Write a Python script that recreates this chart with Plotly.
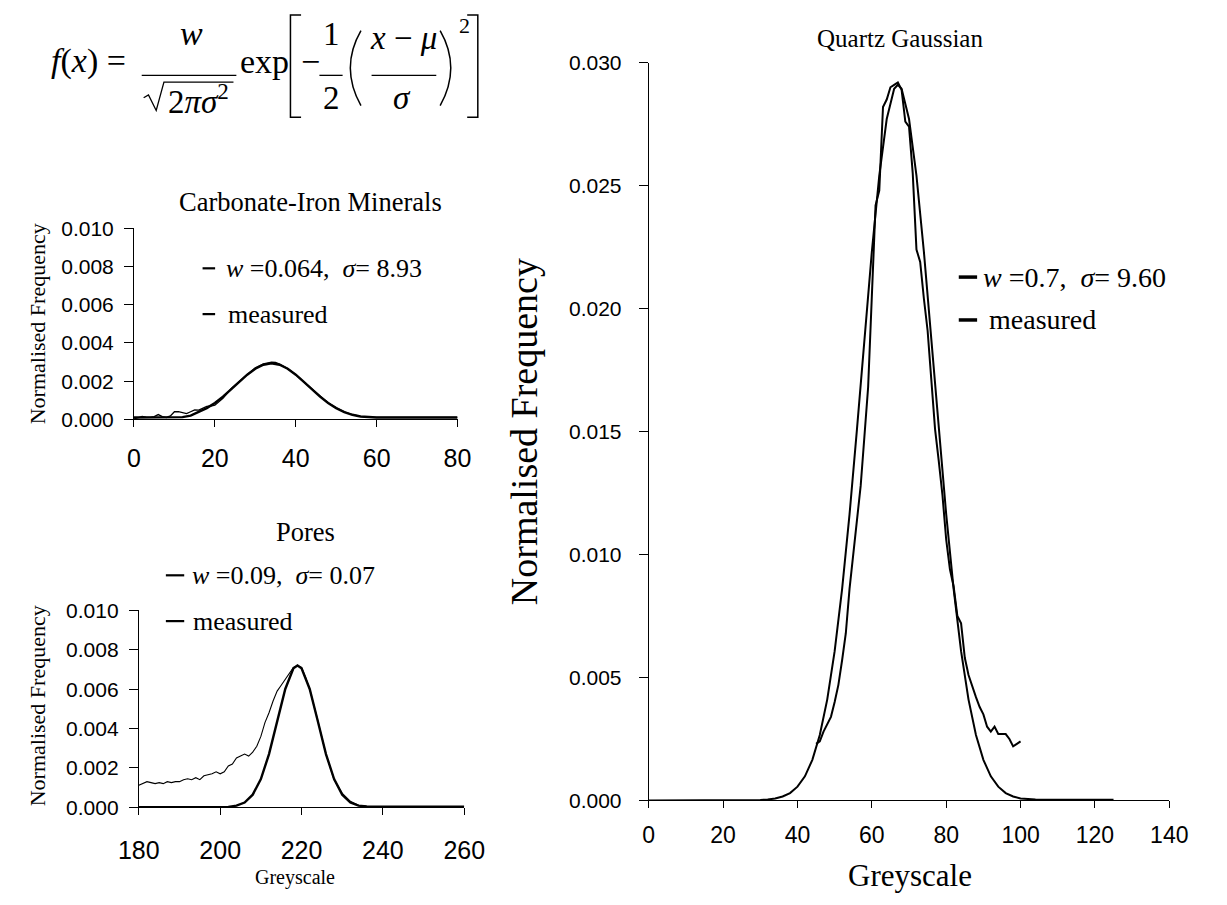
import plotly.graph_objects as go

W, H = 1227, 905

# ---------------- data ----------------
carb_fit_x = [0, 2, 4, 6, 8, 10, 12, 14, 16, 18, 20, 22, 24, 26, 28, 30, 32, 34, 36, 38, 40,
              42, 44, 46, 48, 50, 52, 54, 56, 58, 60, 62, 64, 68, 72, 76, 80]
carb_fit_y = [0.0001, 0.0001, 0.0001, 0.0001, 0.0001, 0.0001, 0.00012, 0.0002, 0.00038, 0.00059,
              0.00086, 0.00119, 0.00157, 0.00196, 0.00234, 0.00265, 0.00286, 0.00293, 0.00286,
              0.00265, 0.00234, 0.00196, 0.00157, 0.00119, 0.00086, 0.00059, 0.00038, 0.00024,
              0.00015, 0.00011, 0.0001, 0.0001, 0.0001, 0.0001, 0.0001, 0.0001, 0.0001]
carb_meas_x = [0, 1, 2, 3, 4, 5, 6, 7, 8, 9, 10, 11, 12, 13, 14, 15, 16, 17, 18, 19, 20, 22,
               24, 26, 28, 30, 32, 33, 34, 35, 36, 38, 40, 42, 44, 46, 48, 50, 52, 54, 56, 58,
               60, 64, 68, 72, 76, 80]
carb_meas_y = [0.00002, 0.0001, 0.00016, 0.00012, 0.0001, 0.00014, 0.00025, 0.00014, 0.0001,
               0.00018, 0.0004, 0.0004, 0.00035, 0.0003, 0.0004, 0.0005, 0.00048, 0.0006,
               0.00068, 0.0007, 0.00074, 0.0011, 0.0016, 0.00198, 0.00236, 0.0027, 0.0029,
               0.00296, 0.003, 0.00298, 0.0029, 0.00266, 0.00234, 0.00196, 0.00158, 0.0012,
               0.00087, 0.0006, 0.0004, 0.00025, 0.00016, 0.00012, 0.0001, 0.0001, 0.0001,
               0.0001, 0.0001, 0.0001]

pores_fit_x = [180, 190, 200, 202, 204, 206, 208, 210, 212, 214, 216, 218, 219, 220, 222, 224,
               226, 228, 230, 232, 234, 236, 240, 250, 260]
pores_fit_y = [0.0, 0.0, 0.00001, 0.00002, 0.00008, 0.00024, 0.00064, 0.00143, 0.0027, 0.00437,
               0.00601, 0.00706, 0.0072, 0.00706, 0.00601, 0.00437, 0.0027, 0.00143, 0.00064,
               0.00024, 0.00008, 0.00004, 0.00003, 0.00003, 0.00003]
pores_meas_x = [180, 181, 182, 183, 184, 185, 186, 187, 188, 189, 190, 191, 192, 193, 194, 195,
                196, 197, 198, 199, 200, 201, 202, 203, 204, 205, 206, 207, 208, 209, 210, 211,
                212, 213, 214, 215, 216, 217, 218, 219, 220, 221, 222, 224, 226, 228, 230, 232,
                234, 236, 240]
pores_meas_y = [0.00112, 0.0012, 0.0013, 0.00125, 0.0012, 0.00125, 0.0012, 0.0013, 0.00125,
                0.0013, 0.0013, 0.0014, 0.00145, 0.0014, 0.0015, 0.0014, 0.0016, 0.00165, 0.0017,
                0.0018, 0.0017, 0.0018, 0.0021, 0.0022, 0.0025, 0.0026, 0.0027, 0.0026, 0.0028,
                0.0031, 0.0036, 0.0043, 0.0048, 0.0054, 0.0059, 0.0062, 0.0065, 0.0068, 0.0071,
                0.0072, 0.0071, 0.0066, 0.006, 0.0044, 0.0027, 0.0014, 0.0007, 0.0003, 0.0001,
                0.00005, 0.00004]

quartz_fit_x = [0, 10, 20, 30, 32, 34, 36, 38, 40, 42, 44, 46, 48, 50, 52, 54, 56, 58, 60, 62,
                64, 66, 67, 68, 70, 72, 74, 76, 78, 80, 82, 84, 86, 88, 90, 92, 94, 96, 98, 100,
                104, 110, 120, 125]
quartz_fit_y = [0.0, 0.0, 0.0, 0.00002, 0.00004, 0.00008, 0.00016, 0.0003, 0.00056, 0.00098,
                0.00165, 0.00266, 0.0041, 0.00607, 0.00859, 0.01163, 0.0151, 0.01875, 0.02231,
                0.02541, 0.02771, 0.02894, 0.0291, 0.02894, 0.02771, 0.02541, 0.02231, 0.01875,
                0.0151, 0.01163, 0.00859, 0.00607, 0.0041, 0.00266, 0.00165, 0.00098, 0.00056,
                0.0003, 0.00016, 0.00008, 0.00004, 0.00003, 0.00003, 0.00003]
quartz_meas_x = [45, 46, 47, 48, 49, 50, 51, 52, 53, 54, 55, 56, 57, 58, 59, 60, 61, 62, 63, 64,
                 65, 66, 67, 68, 69, 70, 71, 72, 73, 74, 75, 76, 77, 78, 79, 80, 81, 82, 83, 84,
                 85, 86, 87, 88, 89, 90, 91, 92, 93, 94, 95, 96, 97, 98, 99, 100]
quartz_meas_y = [0.0023, 0.0024, 0.0028, 0.0031, 0.0034, 0.004, 0.0047, 0.0057, 0.0068, 0.0086,
                 0.0101, 0.0114, 0.0128, 0.0148, 0.0168, 0.0205, 0.0242, 0.0248, 0.0282, 0.0285,
                 0.029, 0.0291, 0.0292, 0.0289, 0.0276, 0.0274, 0.0255, 0.0224, 0.0219, 0.0204,
                 0.0191, 0.0171, 0.0151, 0.0138, 0.0124, 0.0106, 0.0094, 0.0087, 0.0075, 0.0072,
                 0.0058, 0.0051, 0.0046, 0.0042, 0.0038, 0.0035, 0.003, 0.0028, 0.003, 0.0027,
                 0.0027, 0.0027, 0.0025, 0.0022, 0.0023, 0.0024]

carb_title = "Carbonate-Iron Minerals"
pores_title = "Pores"
quartz_title = "Quartz Gaussian"
carb_fit_label = "<i>w</i> =0.064,  <i>σ</i>= 8.93"
pores_fit_label = "<i>w</i> =0.09,  <i>σ</i>= 0.07"
quartz_fit_label = "<i>w</i> =0.7,  <i>σ</i>= 9.60"
meas_label = "measured"
y_label = "Normalised Frequency"
x_label = "Greyscale"

# ---------------- helpers ----------------
def px(x):
    return x / W

def py(y):
    return 1 - y / H

SERIF = "Liberation Serif, Times New Roman, serif"
SANS = "Liberation Sans, Arial, sans-serif"

fig = go.Figure()

def add_pair(fx, fy, mx, my, xa, ya, fit_w, meas_w):
    fig.add_trace(go.Scatter(x=fx, y=fy, mode="lines", xaxis=xa, yaxis=ya,
                             line=dict(color="black", width=fit_w), showlegend=False,
                             hoverinfo="x+y"))
    fig.add_trace(go.Scatter(x=mx, y=my, mode="lines", xaxis=xa, yaxis=ya,
                             line=dict(color="black", width=meas_w), showlegend=False,
                             hoverinfo="x+y"))

add_pair(carb_fit_x, carb_fit_y, carb_meas_x, carb_meas_y, "x", "y", 2.4, 1.3)
add_pair(pores_fit_x, pores_fit_y, pores_meas_x, pores_meas_y, "x2", "y2", 2.4, 1.1)
add_pair(quartz_fit_x, quartz_fit_y, quartz_meas_x, quartz_meas_y, "x3", "y3", 2.0, 2.0)

def xaxis(dom, rng, anchor, fsize, standoff):
    return dict(domain=dom, range=rng, anchor=anchor, dtick=20, tick0=0,
                showline=True, linecolor="black", linewidth=1, ticks="outside",
                ticklen=7, tickcolor="black", showgrid=False, zeroline=False,
                tickfont=dict(family=SANS, size=fsize, color="black"),
                ticklabelstandoff=standoff, fixedrange=True)

def yaxis(dom, rng, dtick, anchor, fsize, standoff):
    return dict(domain=dom, range=rng, anchor=anchor, dtick=dtick, tick0=0,
                tickformat=".3f", showline=True, linecolor="black", linewidth=1,
                ticks="outside", ticklen=9, tickcolor="black", showgrid=False,
                zeroline=False, tickfont=dict(family=SANS, size=fsize, color="black"),
                ticklabelstandoff=standoff, fixedrange=True)

fig.update_layout(
    width=W, height=H, autosize=False,
    margin=dict(l=0, r=0, t=0, b=0),
    paper_bgcolor="white", plot_bgcolor="white",
    showlegend=False,
    xaxis=xaxis([px(117), px(452)], [0, 80], "y", 25, 10),
    yaxis=yaxis([py(418), py(222)], [0, 0.010], 0.002, "x", 21, 6),
    xaxis2=xaxis([px(122), px(459)], [180, 260], "y2", 25, 14),
    yaxis2=yaxis([py(816), py(614)], [0, 0.010], 0.002, "x2", 21, 6),
    xaxis3=xaxis([px(650), px(1189)], [0, 140], "y3", 23, 7),
    yaxis3=yaxis([py(809), py(52)], [0, 0.030], 0.005, "x3", 21, 13),
)

ann = []
shapes = []

def text(t, x, y, size, family=SERIF, xanchor="center", yanchor="middle", angle=0):
    ann.append(dict(text=t, x=px(x), y=py(y), xref="paper", yref="paper",
                    xanchor=xanchor, yanchor=yanchor, showarrow=False, textangle=angle,
                    font=dict(family=family, size=size, color="black")))

def hline(x0, x1, y, w=1.5):
    shapes.append(dict(type="line", xref="paper", yref="paper", x0=px(x0), x1=px(x1),
                       y0=py(y), y1=py(y), line=dict(color="black", width=w)))

def path(cmd, w=1.5):
    shapes.append(dict(type="path", xref="paper", yref="paper", path=cmd,
                       line=dict(color="black", width=w)))

def P(x, y):
    return f"{px(x):.5f},{py(y):.5f}"

# panel titles
text(carb_title, 300, 195, 26.5)
text(pores_title, 295, 534, 26.5)
text(quartz_title, 910, 27, 25)

# legends (dash + label)
def legend_item(x0, y, label, size, dash_w, dash_len, text_x):
    hline(x0, x0 + dash_len, y, dash_w)
    text(label, text_x, y, size, xanchor="left")

legend_item(188, 263, carb_fit_label, 26, 2.2, 13, 210)
legend_item(188, 310, meas_label, 26, 2.2, 13, 212)
legend_item(150, 578, pores_fit_label, 26, 2.2, 19, 175)
legend_item(150, 625, meas_label, 26, 2.2, 19, 176)
legend_item(971, 272, quartz_fit_label, 28, 3.5, 19, 994)
legend_item(971, 316, meas_label, 28, 3.5, 19, 1000)

# axis titles
text(y_label, 17, 320, 22, angle=-90)
text(y_label, 17, 712, 22, angle=-90)
text(x_label, 284, 888, 20)
text(y_label, 521, 431, 38, angle=-90)
text(x_label, 920, 886, 31)

# formula
text("<i>f</i>(<i>x</i>) =", 70, 50, 34)
text("<i>w</i>", 177, 22, 34)
hline(125, 223, 65, 1.3)
path("M " + P(127, 88) + " L " + P(132, 85) + " L " + P(140, 101) + " L " + P(148, 72)
     + " L " + P(220, 72), 1.3)
text("2<i>π</i><i>σ</i><sup>2</sup>", 184, 89, 33)
text("exp", 252, 51, 34)
path("M " + P(290, 3) + " L " + P(279, 3) + " L " + P(279, 108) + " L " + P(290, 108), 1.5)
path("M " + P(462, 3) + " L " + P(473, 3) + " L " + P(473, 108) + " L " + P(462, 108), 1.5)
text("−", 300, 51, 34)
text("1", 321, 23, 33)
text("2", 321, 88, 33)
hline(309, 333, 65, 1.3)
path("M " + P(352, 19) + " Q " + P(330, 57) + " " + P(352, 96), 1.5)
path("M " + P(434, 19) + " Q " + P(456, 57) + " " + P(434, 96), 1.5)
text("<i>x</i> − <i>μ</i>", 396, 27, 33)
hline(363, 430, 65, 1.3)
text("<i>σ</i>", 394, 88, 33)
text("2", 459, 14, 22)

fig.update_layout(annotations=ann, shapes=shapes)

fig.write_html("out.html", config={"displayModeBar": False},
               post_script="document.body.style.margin='0';document.body.style.overflow='hidden';")
